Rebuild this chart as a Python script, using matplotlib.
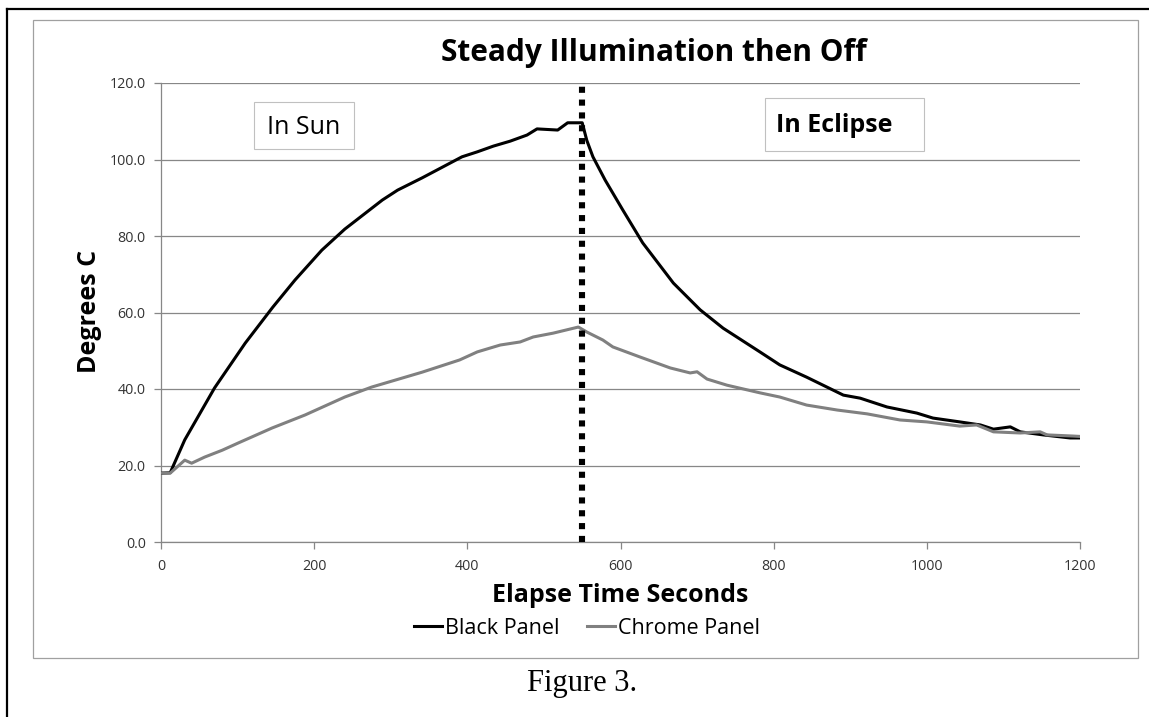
"""
steady illumination then off - black vs chrome panel temperature
"""
import matplotlib
matplotlib.use("Agg")
import matplotlib.pyplot as plt
from matplotlib.lines import Line2D
from matplotlib.patches import Rectangle

# values
black_t = [0, 12, 31, 70, 110, 146, 175, 210, 240, 289, 309, 341, 393, 413, 434, 456,
           478, 491, 518, 531, 550, 556, 564, 580, 603, 629, 669, 704, 734, 782, 808,
           843, 891, 913, 948, 987, 1008, 1043, 1070, 1087, 1109, 1122, 1152, 1187, 1200]
black_temp = [18.0, 18.1, 26.7, 40.3, 52.0, 61.4, 68.5, 76.3, 81.8, 89.4, 92.0, 95.2,
              100.7, 102.0, 103.5, 104.8, 106.4, 108.0, 107.7, 109.6, 109.6, 105.0,
              100.7, 94.6, 86.8, 78.2, 67.7, 60.7, 55.9, 49.7, 46.3, 43.1, 38.4, 37.6,
              35.3, 33.7, 32.4, 31.4, 30.6, 29.5, 30.1, 28.8, 28.0, 27.2, 27.2]

chrome_t = [0, 12, 31, 40, 57, 80, 101, 145, 188, 240, 275, 341, 390, 413, 443, 469,
            486, 512, 545, 556, 577, 590, 625, 665, 691, 700, 713, 739, 782, 808, 843,
            883, 922, 965, 1000, 1043, 1065, 1087, 1122, 1148, 1157, 1191, 1200]
chrome_temp = [18.0, 18.0, 21.4, 20.6, 22.2, 24.0, 25.9, 29.8, 33.2, 37.9, 40.5, 44.4,
               47.6, 49.7, 51.5, 52.3, 53.6, 54.6, 56.2, 54.9, 52.8, 51.0, 48.4, 45.5,
               44.2, 44.5, 42.6, 41.0, 39.0, 37.9, 35.8, 34.5, 33.5, 31.9, 31.4, 30.3,
               30.6, 28.8, 28.5, 28.8, 28.0, 27.7, 27.6]

lamp_off = 550
x_ticks = [0, 200, 400, 600, 800, 1000, 1200]
y_ticks = [0, 20, 40, 60, 80, 100, 120]

W, H = 1149, 717
fig = plt.figure(figsize=(W / 100, H / 100), dpi=100)
fig.patch.set_facecolor("white")


def fx(px):
    return px / W


def fy(py):
    return 1 - py / H


# page border (left + top) and chart frame
fig.add_artist(Line2D([fx(7), fx(7)], [fy(9), 0], transform=fig.transFigure,
                      color="black", lw=1.6))
fig.add_artist(Line2D([fx(7), 1], [fy(9), fy(9)], transform=fig.transFigure,
                      color="black", lw=1.6))
fig.add_artist(Rectangle((fx(33), fy(658)), fx(1138 - 33), (658 - 20) / H,
                         transform=fig.transFigure, fill=False,
                         edgecolor="#a0a0a0", lw=0.9))

ax = fig.add_axes([fx(161), fy(542), fx(1080 - 161), (542 - 83) / H])
ax.plot(black_t, black_temp, color="black", lw=2.2, label="Black Panel", zorder=3)
ax.plot(chrome_t, chrome_temp, color="#808080", lw=2.2, label="Chrome Panel", zorder=3)
ax.axvline(lamp_off, color="black", lw=4.4, linestyle=(0, (1, 1.1)),
           dash_capstyle="butt", zorder=4)

ax.set_xlim(0, 1200)
ax.set_ylim(0, 120)
ax.set_xticks(x_ticks)
ax.set_yticks(y_ticks)
ax.set_yticklabels([f"{v:.1f}" for v in y_ticks])
ax.grid(axis="y", color="#878787", lw=0.9)
ax.set_axisbelow(True)
for s in ["top", "right"]:
    ax.spines[s].set_visible(False)
for s in ["left", "bottom"]:
    ax.spines[s].set_color("#878787")
    ax.spines[s].set_linewidth(0.9)
ax.tick_params(colors="#878787", labelcolor="#333333", length=5, width=0.9,
               labelsize=10.3)
for lab in ax.get_xticklabels() + ax.get_yticklabels():
    lab.set_family("Open Sans")
ax.tick_params(axis="x", pad=7)
ax.tick_params(axis="y", pad=6)

# titles
fig.text(fx(654), fy(53), "Steady Illumination then Off", ha="center", va="center",
         family="Open Sans", fontweight="bold", fontsize=21.5)
fig.text(fx(90), fy(311), "Degrees C", ha="center", va="center", rotation=90,
         family="Open Sans", fontweight="bold", fontsize=18)
fig.text(fx(620), fy(595), "Elapse Time Seconds", ha="center", va="center",
         family="Open Sans", fontweight="bold", fontsize=18)

# boxed labels
fig.add_artist(Rectangle((fx(254), fy(149)), fx(100), 47 / H, transform=fig.transFigure,
                         fill=False, edgecolor="#c0c0c0", lw=0.8))
fig.text(fx(304), fy(127), "In Sun", ha="center", va="center",
         family="Open Sans", fontsize=18)
fig.add_artist(Rectangle((fx(765), fy(151)), fx(159), 53 / H, transform=fig.transFigure,
                         fill=False, edgecolor="#c0c0c0", lw=0.8))
fig.text(fx(776), fy(125), "In Eclipse", ha="left", va="center",
         family="Open Sans", fontweight="bold", fontsize=18)

fig.legend(loc="center", bbox_to_anchor=(fx(587), fy(628)), ncol=2, frameon=False,
           prop={"family": "Open Sans", "size": 15.5}, handlelength=1.3,
           handletextpad=0.15, columnspacing=1.3)

fig.text(fx(582), fy(684), "Figure 3.", ha="center", va="center",
         family="Liberation Serif", fontsize=22)

fig.savefig("out.png", dpi=100, facecolor="white")
